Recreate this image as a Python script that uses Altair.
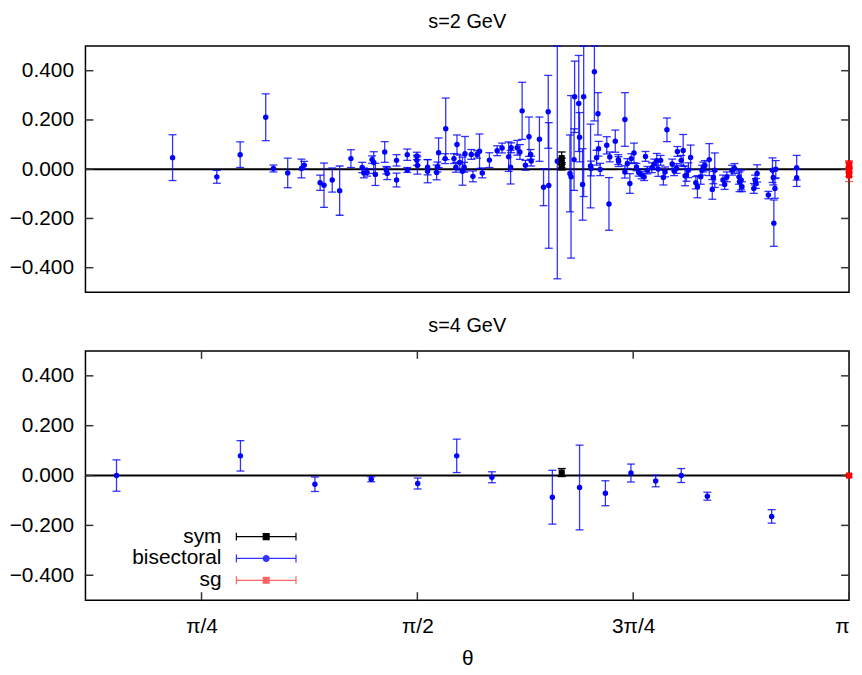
import altair as alt
import pandas as pd

PI = 3.141592653589793

# ---------------- s = 2 GeV ----------------
top_bis_theta = [0.680, 0.841, 0.926, 1.019, 1.047, 1.099, 1.149, 1.159, 1.217, 1.231,
                 1.261, 1.288, 1.329, 1.370, 1.376, 1.388, 1.406, 1.412, 1.418, 1.452,
                 1.458, 1.461, 1.495, 1.495, 1.534, 1.534, 1.569, 1.569, 1.571, 1.608,
                 1.608, 1.641, 1.644, 1.648, 1.674, 1.672, 1.704, 1.711, 1.715, 1.725,
                 1.735, 1.741, 1.744, 1.767, 1.773, 1.788, 1.797, 1.807, 1.833, 1.861,
                 1.879, 1.903, 1.912, 1.910, 1.934, 1.944, 1.952, 1.964, 1.977, 1.983,
                 1.985, 2.015, 2.030, 2.047, 2.049, 2.080, 2.126, 2.130, 2.141, 2.143,
                 2.158, 2.161, 2.172, 2.176, 2.201, 2.203, 2.215, 2.223, 2.228, 2.230,
                 2.236, 2.260, 2.268, 2.271, 2.291, 2.302, 2.303, 2.326, 2.326, 2.335,
                 2.344, 2.349, 2.359, 2.368, 2.376, 2.387, 2.396, 2.401, 2.408, 2.424,
                 2.433, 2.442, 2.447, 2.456, 2.466, 2.472, 2.479, 2.498, 2.505, 2.514,
                 2.517, 2.531, 2.538, 2.545, 2.550, 2.557, 2.565, 2.584, 2.590, 2.602,
                 2.607, 2.611, 2.617, 2.633, 2.644, 2.648, 2.653, 2.683, 2.689, 2.697,
                 2.716, 2.725, 2.741, 2.743, 2.749, 2.752, 2.795, 2.800, 2.803, 2.807,
                 2.848, 2.863, 2.866, 2.868, 2.872, 2.875, 2.951, 2.951]
top_bis_value = [0.047, -0.031, 0.059, 0.211, 0.003, -0.015, 0.003, 0.016, -0.055, -0.065,
                 -0.044, -0.087, 0.043, 0.007, -0.015, -0.013, 0.039, 0.027, -0.021, 0.070,
                 -0.004, -0.017, 0.036, -0.044, 0.059, -0.003, 0.054, 0.036, 0.015, 0.008,
                 -0.008, -0.013, 0.009, 0.067, 0.164, 0.043, 0.043, 0.008, 0.100, 0.027,
                 -0.008, 0.008, 0.063, 0.060, -0.029, 0.060, 0.073, -0.015, 0.037, 0.075,
                 0.086, 0.051, 0.087, 0.008, 0.087, 0.070, 0.237, 0.016, 0.132, 0.060,
                 0.033, 0.122, -0.073, 0.233, -0.066, 0.032, -0.017, -0.031, 0.039, 0.294,
                 0.267, 0.130, -0.062, 0.294, 0.013, 0.003, 0.396, 0.047, 0.225, 0.083,
                 -0.001, 0.097, -0.141, 0.050, 0.114, 0.039, 0.031, 0.202, -0.011, 0.023,
                 -0.058, 0.043, 0.066, 0.009, -0.013, -0.024, -0.031, 0.052, -0.004, 0.006,
                 0.021, 0.034, 0.001, 0.036, -0.034, -0.011, 0.160, 0.021, -0.006, 0.003,
                 0.072, 0.036, 0.076, -0.027, -0.024, -0.004, 0.048, -0.055, -0.071, -0.031,
                 -0.004, 0.009, 0.015, 0.039, -0.082, -0.034, -0.004, -0.044, -0.062, -0.031,
                 -0.004, 0.003, -0.031, -0.051, -0.044, -0.071, -0.078, -0.044, -0.058, -0.017,
                 -0.105, -0.004, -0.034, -0.219, -0.078, 0.000, 0.006, -0.035]
top_bis_error = [0.093, 0.026, 0.052, 0.095, 0.014, 0.060, 0.038, 0.016, 0.031, 0.090,
                 0.049, 0.100, 0.036, 0.021, 0.020, 0.015, 0.015, 0.044, 0.045, 0.042,
                 0.015, 0.025, 0.023, 0.028, 0.023, 0.010, 0.015, 0.020, 0.035, 0.031,
                 0.047, 0.030, 0.020, 0.060, 0.125, 0.020, 0.020, 0.020, 0.039, 0.030,
                 0.057, 0.020, 0.070, 0.020, 0.022, 0.015, 0.070, 0.020, 0.030, 0.020,
                 0.020, 0.060, 0.020, 0.068, 0.030, 0.030, 0.116, 0.020, 0.080, 0.020,
                 0.020, 0.090, 0.075, 0.148, 0.255, 0.477, 0.156, 0.330, 0.125, 0.145,
                 0.195, 0.100, 0.145, 0.405, 0.170, 0.030, 0.200, 0.030, 0.086, 0.030,
                 0.025, 0.035, 0.107, 0.020, 0.045, 0.020, 0.020, 0.109, 0.025, 0.020,
                 0.040, 0.020, 0.040, 0.015, 0.015, 0.015, 0.015, 0.020, 0.015, 0.020,
                 0.020, 0.030, 0.030, 0.020, 0.030, 0.020, 0.048, 0.020, 0.020, 0.020,
                 0.020, 0.020, 0.065, 0.040, 0.025, 0.030, 0.050, 0.025, 0.045, 0.030,
                 0.020, 0.020, 0.020, 0.065, 0.040, 0.025, 0.070, 0.020, 0.020, 0.020,
                 0.020, 0.020, 0.030, 0.040, 0.040, 0.020, 0.020, 0.020, 0.020, 0.035,
                 0.015, 0.050, 0.030, 0.094, 0.040, 0.035, 0.050, 0.035]

top_sym_theta = [2.096, 2.096, 2.096]
top_sym_value = [0.045, 0.025, 0.012]
top_sym_error = [0.025, 0.020, 0.015]

top_sg_theta = [PI, PI, PI, PI, PI]
top_sg_value = [0.020, 0.005, -0.010, -0.025, 0.010]
top_sg_error = [0.015, 0.020, 0.020, 0.025, 0.020]

# ---------------- s = 4 GeV ----------------
bot_bis_theta = [0.476, 0.927, 1.198, 1.403, 1.572, 1.714, 1.842, 2.062, 2.161, 2.255,
                 2.348, 2.438, 2.531, 2.626, 2.860]
bot_bis_value = [0.000, 0.079, -0.035, -0.015, -0.032, 0.079, -0.007, -0.087, -0.048, -0.071,
                 0.010, -0.022, 0.000, -0.083, -0.164]
bot_bis_error = [0.063, 0.061, 0.029, 0.010, 0.022, 0.067, 0.022, 0.108, 0.170, 0.050,
                 0.036, 0.023, 0.028, 0.016, 0.027]

bot_sym_theta = [2.096]
bot_sym_value = [0.012]
bot_sym_error = [0.016]

bot_sg_theta = [PI]
bot_sg_value = [0.000]
bot_sg_error = [0.005]

series_names = ["sym", "bisectoral", "sg"]
series_colors = ["#000000", "#0000ff", "#ff0000"]
y_tick_values = [-0.4, -0.2, 0.0, 0.2, 0.4]
x_tick_values = [PI / 4, PI / 2, 3 * PI / 4, PI]

W = 769
FONT = "Liberation Sans"
FS = 21


def build(sym, bis, sg):
    rows = []
    for name, (th, va, er) in zip(series_names, (sym, bis, sg)):
        for t, v, e in zip(th, va, er):
            rows.append({"series": name, "theta": t, "value": v, "lo": v - e, "hi": v + e})
    return pd.DataFrame(rows)


top_df = build((top_sym_theta, top_sym_value, top_sym_error),
               (top_bis_theta, top_bis_value, top_bis_error),
               (top_sg_theta, top_sg_value, top_sg_error))
bot_df = build((bot_sym_theta, bot_sym_value, bot_sym_error),
               (bot_bis_theta, bot_bis_value, bot_bis_error),
               (bot_sg_theta, bot_sg_value, bot_sg_error))

xscale = alt.Scale(domain=[0.363, PI], nice=False, zero=False)
yscale = alt.Scale(domain=[-0.5, 0.5], nice=False, clamp=True)
cscale = alt.Scale(domain=series_names, range=series_colors)
oscale = alt.Scale(domain=series_names, range=[1.0, 0.6, 0.6])

yaxis = alt.Axis(values=y_tick_values, format=".3f", ticks=False, domain=False, grid=False,
                 labelPadding=12, labelFont=FONT, labelFontSize=FS, labelColor="black")
xaxis = alt.Axis(values=x_tick_values, ticks=False, domain=False, grid=False,
                 labelExpr="datum.value < 1 ? 'π/4' : datum.value < 2 ? 'π/2' : datum.value < 3 ? '3π/4' : 'π'",
                 labelPadding=16, labelFont=FONT, labelFontSize=FS, labelColor="black",
                 titleFont=FONT, titleFontSize=FS, titleFontWeight="normal", titlePadding=11,
                 titleColor="black")

circ = ("M-2.73,0H2.73M-2.73,-0.36V0.36M2.73,-0.36V0.36"
        "M0.27,0A0.27,0.27 0 1,1 -0.27,0A0.27,0.27 0 1,1 0.27,0Z")
sq = ("M-2.73,0H2.73M-2.73,-0.36V0.36M2.73,-0.36V0.36"
      "M-0.27,-0.27H0.27V0.27H-0.27Z")

legend = alt.Legend(
    title=None, orient="none", legendX=170, legendY=175, padding=0, rowPadding=0,
    symbolType={"expr": f"datum.value === 'bisectoral' ? '{circ}' : '{sq}'"},
    symbolSize=484, symbolStrokeWidth=1.2, symbolOpacity=1,
    symbolFillColor={"expr": "datum.value === 'sym' ? '#000000' : datum.value === 'sg' ? '#ff0000' : '#0000ff'"},
    symbolStrokeColor={"expr": "datum.value === 'sym' ? '#222222' : datum.value === 'sg' ? '#ff5050' : '#5a5aff'"},
    labelAlign="right", labelOffset={"expr": "-57"}, labelFont=FONT, labelFontSize=FS,
    labelColor="black", labelBaseline="middle",
)


def panel(df, title, height, bottom):
    xa = xaxis if bottom else None
    xt = "θ" if bottom else None
    leg = legend if bottom else None
    X = lambda f: alt.X(f, scale=xscale, axis=xa, title=xt)
    Y = lambda f: alt.Y(f, scale=yscale, axis=yaxis, title=None)
    col = alt.Color("series:N", scale=cscale, legend=leg)
    op = alt.Opacity("series:N", scale=oscale, legend=None)
    base = alt.Chart(df)

    zero = alt.Chart(pd.DataFrame({"z": [0.0]})).mark_rule(color="black", strokeWidth=2).encode(
        y=Y("z:Q"))
    bars = base.mark_rule(strokeWidth=1.3).encode(x=X("theta:Q"), y=Y("lo:Q"), y2="hi:Q",
                                                   color=col, opacity=op)
    cap_lo = base.mark_tick(orient="horizontal", size=8, thickness=1.3).encode(
        x=X("theta:Q"), y=Y("lo:Q"), color=col, opacity=op)
    cap_hi = base.mark_tick(orient="horizontal", size=8, thickness=1.3).encode(
        x=X("theta:Q"), y=Y("hi:Q"), color=col, opacity=op)
    circles = base.transform_filter("datum.series === 'bisectoral'").mark_circle(
        size=30, opacity=1).encode(x=X("theta:Q"), y=Y("value:Q"), color=col)
    squares = base.transform_filter("datum.series !== 'bisectoral'").mark_square(
        size=38, opacity=1).encode(x=X("theta:Q"), y=Y("value:Q"), color=col)

    ytk = alt.Chart(pd.DataFrame({"v": y_tick_values}))
    ytl = ytk.mark_rule(color="#333333", strokeWidth=1.5).encode(
        y=Y("v:Q"), x=alt.value(0), x2=alt.value(8))
    ytr = ytk.mark_rule(color="#333333", strokeWidth=1.5).encode(
        y=Y("v:Q"), x=alt.value(W - 8), x2=alt.value(W))
    layers = [zero, ytl, ytr]
    if bottom:
        xtk = alt.Chart(pd.DataFrame({"t": x_tick_values}))
        layers.append(xtk.mark_rule(color="#333333", strokeWidth=1.5).encode(
            x=X("t:Q"), y=alt.value(height - 8), y2=alt.value(height)))
        layers.append(xtk.mark_rule(color="#333333", strokeWidth=1.5).encode(
            x=X("t:Q"), y=alt.value(0), y2=alt.value(8)))
    layers += [bars, cap_lo, cap_hi, circles, squares]
    return alt.layer(*layers).properties(
        width=W, height=height,
        title=alt.TitleParams(title, font=FONT, fontSize=20, fontWeight="normal",
                              color="black", offset=14))


top = panel(top_df, "s=2 GeV", 248, False)
bot = panel(bot_df, "s=4 GeV", 251, True)

chart = alt.vconcat(top, bot, spacing=22).resolve_scale(
    color="independent", opacity="independent"
).properties(
    padding={"left": 0, "top": 0, "right": 0, "bottom": 0}
).configure_view(stroke="black", strokeWidth=1.5)

chart.save("out.html", embed_options={"renderer": "svg", "actions": False})
